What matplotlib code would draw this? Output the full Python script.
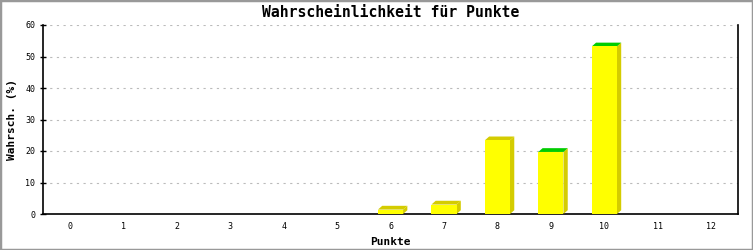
import numpy as np
import matplotlib.pyplot as plt
from matplotlib.patches import Polygon

# data
punkte = list(range(13))
wahrsch = [0, 0, 0, 0, 0, 0, 1.4, 3.0, 23.4, 19.7, 53.2, 0, 0]
top_green = [False] * 9 + [True, True] + [False, False]

fig = plt.figure(figsize=(7.53, 2.5), dpi=100)
ax = fig.add_axes([0.0571, 0.144, 0.923, 0.756])

font = 'DejaVu Sans Mono'
w = 0.47
dx, dy = 0.08, 1.2

ax.set_xlim(-0.5, 12.5)
ax.set_ylim(0, 60)

for x, v, g in zip(punkte, wahrsch, top_green):
    if v <= 0:
        continue
    l, r = x - w / 2, x + w / 2
    side = Polygon([(r, 0), (r + dx, dy), (r + dx, v + dy), (r, v)],
                   closed=True, fc='#d4cc00', ec='none', zorder=3)
    top = Polygon([(l, v), (l + dx, v + dy), (r + dx, v + dy), (r, v)],
                  closed=True, fc='#00cc00' if g else '#d4cc00', ec='none', zorder=3)
    ax.add_patch(side)
    ax.add_patch(top)
ax.bar(punkte, wahrsch, width=w, color='#ffff00', zorder=4)

ax.set_yticks(range(0, 61, 10))
ax.set_xticks(punkte)
ax.set_xticklabels([str(p) for p in punkte], fontsize=6, family=font)
ax.set_yticklabels([str(t) for t in range(0, 61, 10)], fontsize=6, family=font)
ax.tick_params(axis='x', length=0, pad=6)
ax.tick_params(axis='y', length=5, width=1, direction='inout', pad=3)
ax.grid(axis='y', color='#bbbbbb', linestyle=(0, (2, 4)), linewidth=0.8)
ax.set_axisbelow(True)

ax.spines['top'].set_visible(False)
for s in ['left', 'right', 'bottom']:
    ax.spines[s].set_linewidth(1.2)

ax.set_title('Wahrscheinlichkeit für Punkte', fontsize=10.6, family=font,
             fontweight='bold', pad=6)
ax.set_xlabel('Punkte', fontsize=8, family=font, fontweight='bold', labelpad=4)
ax.set_ylabel('Wahrsch. (%)', fontsize=8, family=font, fontweight='bold', labelpad=6)

# grey frame round the picture
fig.patches.append(plt.Rectangle((0, 0), 1, 1, transform=fig.transFigure,
                                 fill=False, ec='#999999', lw=2.5))

plt.savefig('out.png', dpi=100)
